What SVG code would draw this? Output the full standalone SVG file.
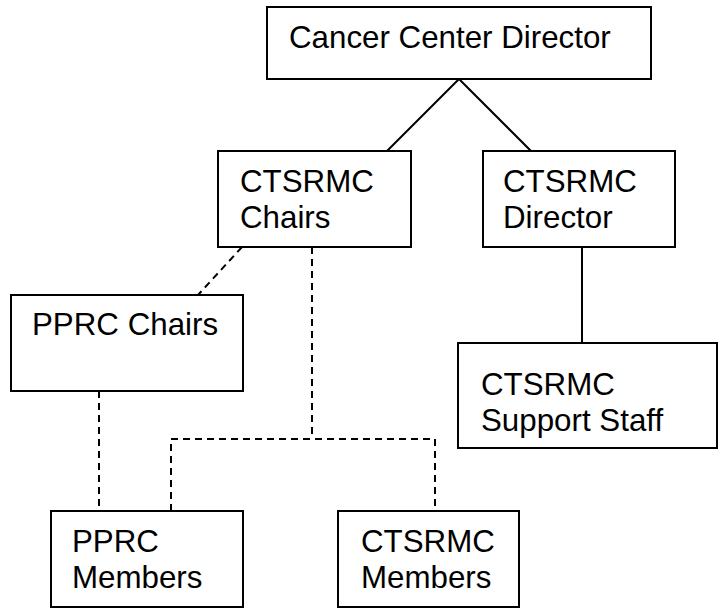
<svg xmlns="http://www.w3.org/2000/svg" width="720" height="613" viewBox="0 0 720 613">
<style>
.box{fill:#fff;stroke:#000;stroke-width:2}
.t{font-family:"Liberation Sans",Arial,sans-serif;font-size:31.3px;fill:#000}
.solid{stroke:#000;stroke-width:2;fill:none}
.dash{stroke:#000;stroke-width:2;fill:none;stroke-dasharray:7 5}
</style>
<rect width="720" height="613" fill="#fff"/>
<g id="connectors">
<path class="solid" d="M459 79 L387 151 M459 79 L531 151"/>
<path class="solid" d="M582 247 L582 343"/>
<path class="dash" d="M242 247 L198 295"/>
<path class="dash" d="M99 391 L99 511"/>
<path class="dash" d="M312 247 L312 439 M171 511 L171 439 L435 439 L435 511"/>
</g>
<g id="director">
<rect class="box" x="267" y="7" width="384" height="72"/>
<text class="t" x="289" y="48">Cancer Center Director</text>
</g>
<g id="ctsrmc-chairs">
<rect class="box" x="218" y="151" width="193" height="96"/>
<text class="t" x="240" y="192">CTSRMC</text>
<text class="t" x="240" y="228">Chairs</text>
</g>
<g id="ctsrmc-director">
<rect class="box" x="483" y="151" width="192" height="96"/>
<text class="t" x="503" y="192">CTSRMC</text>
<text class="t" x="503" y="228">Director</text>
</g>
<g id="pprc-chairs">
<rect class="box" x="11" y="295" width="232" height="96"/>
<text class="t" x="32" y="335">PPRC Chairs</text>
</g>
<g id="support-staff">
<rect class="box" x="458" y="343" width="259" height="105"/>
<text class="t" x="481" y="395">CTSRMC</text>
<text class="t" x="481" y="431">Support Staff</text>
</g>
<g id="pprc-members">
<rect class="box" x="51" y="511" width="192" height="96"/>
<text class="t" x="72" y="552">PPRC</text>
<text class="t" x="72" y="588">Members</text>
</g>
<g id="ctsrmc-members">
<rect class="box" x="338" y="511" width="181" height="96"/>
<text class="t" x="361" y="552">CTSRMC</text>
<text class="t" x="361" y="588">Members</text>
</g>
</svg>
